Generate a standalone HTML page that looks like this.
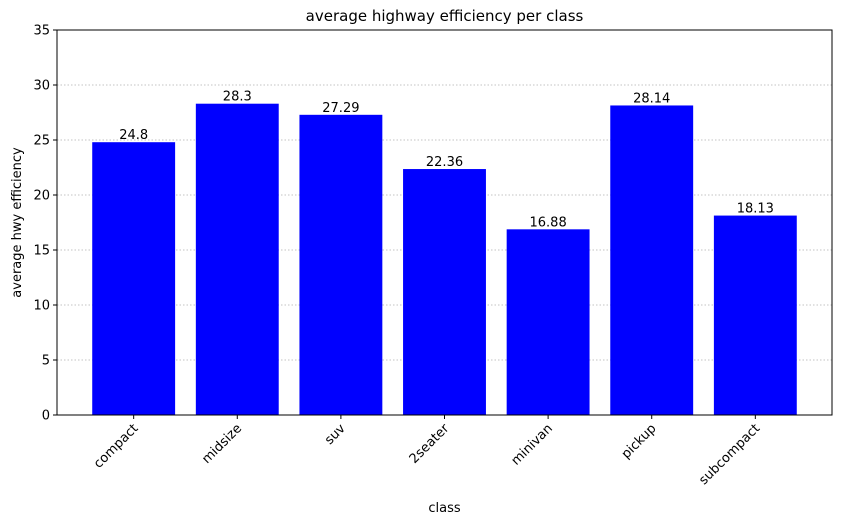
<!DOCTYPE html>
<html><head><meta charset="utf-8"><style>body{margin:0;background:#fff}svg{font-family:"DejaVu Sans","Liberation Sans",sans-serif}</style></head>
<body>
<svg id="chart" width="842" height="524" viewBox="0 0 842 524"></svg>
<script>
const categories=["compact","midsize","suv","2seater","minivan","pickup","subcompact"];
const values=[24.8,28.3,27.29,22.36,16.88,28.14,18.13];
const valueLabels=["24.8","28.3","27.29","22.36","16.88","28.14","18.13"];
const yTicks=[0,5,10,15,20,25,30,35];
const L=57,R=832,T=30,B=415,yMax=35,xMin=-0.74,xMax=6.74;
const ns="http://www.w3.org/2000/svg",svg=document.getElementById("chart");
const y=v=>B-(v/yMax)*(B-T);
const x=i=>L+(i-xMin)/(xMax-xMin)*(R-L);
const bw=0.8*(R-L)/(xMax-xMin);
function el(t,a,txt){const e=document.createElementNS(ns,t);for(const k in a)e.setAttribute(k,a[k]);if(txt!==undefined)e.textContent=txt;svg.appendChild(e);return e;}
yTicks.forEach(t=>{
 if(t>0&&t<yMax){const g=el("line",{x1:L,x2:R,y1:y(t),y2:y(t),stroke:"#b0b0b0","stroke-dasharray":"1.5,2","stroke-width":0.8});
 
 }
 const tk=el("line",{x1:L-4,x2:L,y1:y(t),y2:y(t),stroke:"#000"});
 
 
 const lb=el("text",{x:L-7,y:y(t)+4.5,"text-anchor":"end","font-size":13},t);
 
 
});
categories.forEach((c,i)=>{
 const cx=x(i);
 const r=el("rect",{x:cx-bw/2,y:y(values[i]),width:bw,height:B-y(values[i]),fill:"#0000ff"});
 
 
 const v=el("text",{x:cx,y:y(values[i])-3,"text-anchor":"middle","font-size":13},valueLabels[i]);
 
 
 const tk=el("line",{x1:cx,x2:cx,y1:B,y2:B+4,stroke:"#000"});
 
 
 const lb=el("text",{x:cx+5,y:B+14,"text-anchor":"end","font-size":13,transform:`rotate(-45 ${cx+5} ${B+14})`},c);
 
 
});
const fr=el("rect",{x:L,y:T,width:R-L,height:B-T,fill:"none",stroke:"#000","stroke-width":1});


const ti=el("text",{x:(L+R)/2,y:21,"text-anchor":"middle","font-size":15},"average highway efficiency per class");


const xt=el("text",{x:(L+R)/2,y:512,"text-anchor":"middle","font-size":13},"class");


const yt=el("text",{x:21,y:(T+B)/2,"text-anchor":"middle","font-size":13,transform:`rotate(-90 21 ${(T+B)/2})`},"average hwy efficiency");


</script>
</body></html>
